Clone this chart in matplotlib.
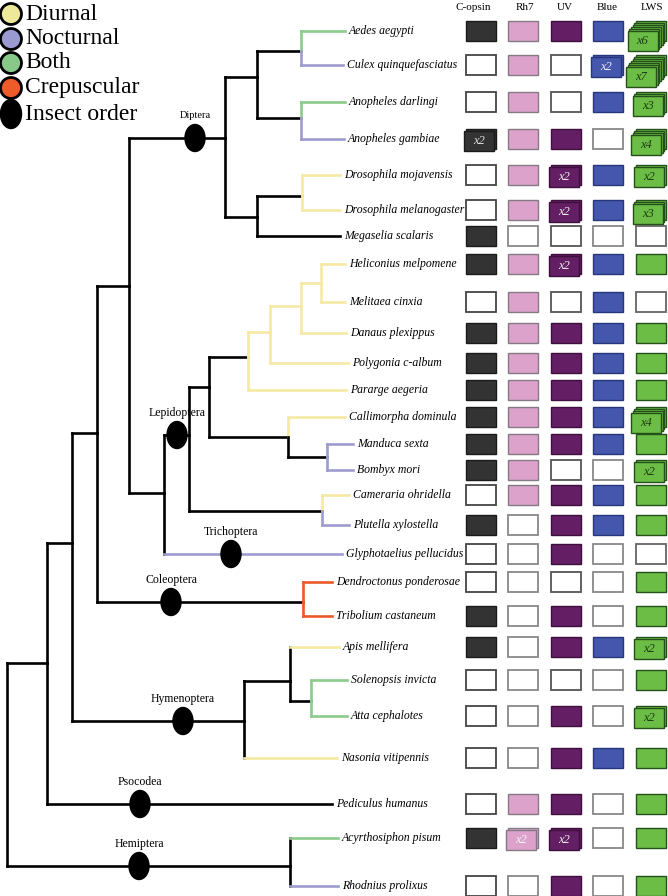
import matplotlib.pyplot as plt
from matplotlib.patches import Rectangle, Ellipse, Circle

# species in tree order (top to bottom)
species = ["Aedes aegypti", "Culex quinquefasciatus", "Anopheles darlingi",
           "Anopheles gambiae", "Drosophila mojavensis", "Drosophila melanogaster",
           "Megaselia scalaris", "Heliconius melpomene", "Melitaea cinxia",
           "Danaus plexippus", "Polygonia c-album", "Pararge aegeria",
           "Callimorpha dominula", "Manduca sexta", "Bombyx mori",
           "Cameraria ohridella", "Plutella xylostella", "Glyphotaelius pellucidus",
           "Dendroctonus ponderosae", "Tribolium castaneum", "Apis mellifera",
           "Solenopsis invicta", "Atta cephalotes", "Nasonia vitipennis",
           "Pediculus humanus", "Acyrthosiphon pisum", "Rhodnius prolixus"]

# D diurnal, N nocturnal, B both, C crepuscular, "" unknown
activity = ["B", "N", "B", "N", "D", "D", "", "D", "D", "D", "D", "D", "D", "N",
            "N", "D", "N", "N", "C", "C", "D", "B", "B", "D", "", "B", "N"]

# opsin copy numbers (0 = absent)
opsins = ["C-opsin", "Rh7", "UV", "Blue", "LWS"]
c_opsin = [1, 0, 0, 2, 0, 0, 1, 1, 0, 1, 1, 1, 1, 1, 1, 0, 1, 0, 0, 1, 1, 0, 0, 0, 0, 1, 0]
rh7 = [1, 1, 1, 1, 1, 1, 0, 1, 1, 1, 1, 1, 1, 1, 1, 1, 0, 0, 0, 0, 0, 0, 0, 0, 1, 2, 0]
uv = [1, 0, 0, 1, 2, 2, 0, 2, 0, 1, 1, 1, 1, 1, 0, 1, 1, 1, 0, 1, 1, 0, 1, 1, 1, 2, 1]
blue = [1, 2, 1, 0, 1, 1, 0, 1, 1, 1, 1, 1, 1, 1, 0, 1, 1, 0, 0, 0, 1, 0, 0, 1, 0, 0, 0]
lws = [6, 7, 3, 4, 2, 3, 0, 1, 0, 1, 1, 1, 4, 1, 2, 1, 1, 0, 1, 1, 2, 1, 2, 1, 1, 1, 1]
counts = [c_opsin, rh7, uv, blue, lws]

# tree topology, leaves are species indices
tree = ("root", [
    ("A", [
        ("B", [
            ("C", [
                ("D", [
                    ("Dip", [
                        ("Mos", [("AeCu", [0, 1]), ("Anoph", [2, 3])]),
                        ("DroMeg", [("Dros", [4, 5]), 6])]),
                    ("LT", [
                        ("Lep", [
                            ("Lep1", [
                                ("But1", [("But2", [("But3", [("But4", [7, 8]), 9]), 10]), 11]),
                                ("Moth", [12, ("MaBo", [13, 14])])]),
                            ("CaPl", [15, 16])]),
                        17])]),
                ("Col", [18, 19])]),
            ("Hym", [("Hym2", [20, ("SoAt", [21, 22])]), 23])]),
        24]),
    ("Hem", [25, 26])])

orders = ["Diptera", "Lepidoptera", "Trichoptera", "Coleoptera",
          "Hymenoptera", "Psocodea", "Hemiptera"]
order_clade = ["Dip", "Lep", 17, "Col", "Hym", 24, "Hem"]

# ---- layout (pixels) ----
row_y = [31, 65, 102, 139, 175, 210, 236, 264, 302, 333, 363, 390, 417, 444, 470,
         495, 525, 554, 582, 616, 647, 680, 716, 758, 804, 838, 886]
tip_x = [345, 343, 345, 344, 340, 340, 340, 345, 345, 346, 348, 346, 345, 353, 353,
         349, 349, 342, 332, 332, 339, 347, 347, 337, 332, 338, 338]
node_xy = {"root": (7, 663), "A": (47, 663), "B": (72, 543), "C": (97, 433),
           "D": (129, 286), "Dip": (225, 138), "Mos": (257, 77), "AeCu": (301, 51),
           "Anoph": (301, 118), "DroMeg": (257, 217), "Dros": (302, 196),
           "LT": (164, 493), "Lep": (189, 435), "Lep1": (209, 387), "But1": (248, 357),
           "But2": (270, 332), "But3": (301, 306), "But4": (321, 283),
           "Moth": (288, 437), "MaBo": (327, 457), "CaPl": (322, 511),
           "Col": (303, 602), "Hym": (244, 721), "Hym2": (290, 681),
           "SoAt": (311, 701), "Hem": (290, 866)}
black_stems = {"LT", "Hym", "Hym2", "Hem"}
order_x = [195, 177, 231, 171, 183, 140, 139]
col_x = [481, 523, 566, 608, 651]
head_x = [473, 525, 565, 607, 652]
box_w, box_h = 30, 20

act_col = {"D": "#f6e9a3", "N": "#9c9ccf", "B": "#8ccb8a", "C": "#ec5a2a"}
leg_col = {"D": "#eee89a", "N": "#9a9ad0", "B": "#88c888", "C": "#ee5a28"}
op_face = ["#333333", "#dca2cb", "#641e63", "#4556ad", "#6cbd45"]
op_edge = ["#1a1a1a", "#857a84", "#3d0f3d", "#27357a", "#24501a"]
op_empty = ["#444444", "#888888", "#555555", "#888888", "#666666"]
op_text = ["#dddddd", "#f4f4f4", "#eeeeee", "#eeeeee", "#1e3d12"]

serif = "Liberation Serif"

fig = plt.figure(figsize=(6.68, 8.96), dpi=100)
ax = fig.add_axes([0, 0, 1, 1])
ax.set_xlim(0, 668)
ax.set_ylim(896, 0)
ax.axis("off")


def leaf_color(i):
    return act_col.get(activity[i])


def clade_color(node):
    if isinstance(node, int):
        return leaf_color(node)
    cols = [clade_color(k) for k in node[1]]
    if cols[0] is not None and all(c == cols[0] for c in cols):
        return cols[0]
    return None


def draw(node):
    name, kids = node
    x, y = node_xy[name]
    mono = clade_color(node)
    for k in kids:
        if isinstance(k, int):
            cx, cy = tip_x[k], row_y[k]
            hcol = leaf_color(k) or "black"
            vcol = "black" if name in black_stems else hcol
        else:
            cx, cy = node_xy[k[0]]
            c = clade_color(k)
            hcol = c if (c is not None and c == mono) else "black"
            vcol = hcol
        ax.plot([x, x], [y, cy], color=vcol, lw=1.9, solid_capstyle="projecting")
        ax.plot([x, cx], [cy, cy], color=hcol, lw=1.9, solid_capstyle="projecting")
        if not isinstance(k, int):
            draw(k)


draw(tree)

# order markers
for name, cl, ox in zip(orders, order_clade, order_x):
    oy = row_y[cl] if isinstance(cl, int) else node_xy[cl][1]
    ax.add_patch(Ellipse((ox, oy), 20, 27, color="black", zorder=5))
    fs = 7.5 if name == "Diptera" else 8.5
    ax.text(ox, oy - 22, name, ha="center", va="center", fontsize=fs, family=serif)

# species labels
for i, s in enumerate(species):
    ax.text(tip_x[i] + 4, row_y[i], s, ha="left", va="center", fontsize=8.5,
            family=serif, style="italic")

# opsin matrix
for j, name in enumerate(opsins):
    ax.text(head_x[j], 8, name, ha="center", va="center", fontsize=8, family=serif)
    for i in range(len(species)):
        v = counts[j][i]
        cx, cy = col_x[j], row_y[i]
        if v == 0:
            ax.add_patch(Rectangle((cx - box_w / 2, cy - box_h / 2), box_w, box_h,
                                   facecolor="white", edgecolor=op_empty[j], lw=1.3))
            continue
        for k in range(v):
            x0 = cx - box_w / 2 - k * 1.7
            y0 = cy - box_h / 2 + k * 2.0
            ax.add_patch(Rectangle((x0, y0), box_w, box_h, facecolor=op_face[j],
                                   edgecolor=op_edge[j], lw=1.0, zorder=3 + k * 0.01))
        if v > 1:
            ax.text(cx - (v - 1) * 1.7, cy + (v - 1) * 2.0, "x%d" % v, ha="center",
                    va="center", fontsize=9, family=serif, style="italic",
                    color=op_text[j], zorder=4)

# legend
leg_labels = ["Diurnal", "Nocturnal", "Both", "Crepuscular", "Insect order"]
leg_keys = ["D", "N", "B", "C", ""]
leg_y = [14, 39, 63, 88, 114]
for lab, key, ly in zip(leg_labels, leg_keys, leg_y):
    if key:
        ax.add_patch(Circle((11, ly), 10.5, facecolor=leg_col[key], edgecolor="black",
                            lw=2))
    else:
        ax.add_patch(Ellipse((11, ly), 21, 29, color="black"))
    ax.text(25, ly, lab, ha="left", va="center", fontsize=17, family=serif)

fig.savefig("out.png", dpi=100)
